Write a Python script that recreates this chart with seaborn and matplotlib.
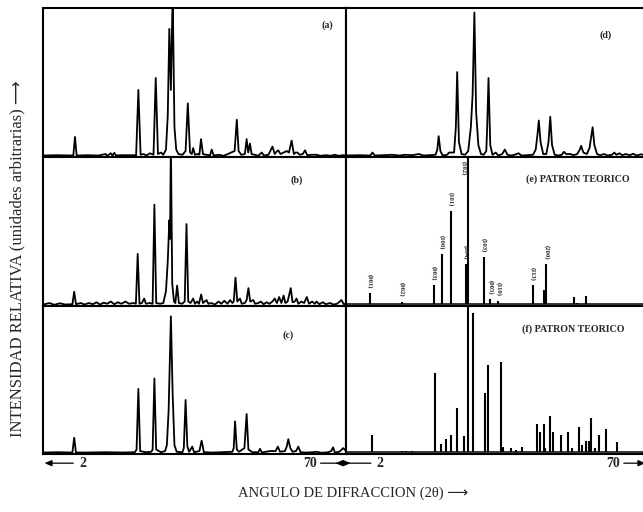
import matplotlib
matplotlib.use("Agg")
import matplotlib.pyplot as plt
import numpy as np
import pandas as pd
import seaborn as sns

# --- measured diffraction traces (2theta in degrees, relative intensity) ---
trace_a = [(2.0, 0.01), (5.0, 0.012), (8.8, 0.01), (9.18, 0.135), (9.55, 0.01), (12.0, 0.012),
           (14.5, 0.01), (16.0, 0.02), (16.4, 0.008), (17.2, 0.025), (17.6, 0.01), (18.0, 0.028),
           (18.4, 0.01), (19.5, 0.012), (22.9, 0.012), (23.4, 0.45), (23.9, 0.015), (24.6, 0.02),
           (25.2, 0.01), (26.0, 0.025), (26.8, 0.015), (27.3, 0.53), (27.8, 0.02), (28.5, 0.03),
           (29.0, 0.015), (29.6, 0.05), (30.0, 0.28), (30.35, 0.86), (30.7, 0.45), (31.1, 1.1),
           (31.5, 0.2), (31.9, 0.05), (32.4, 0.02), (33.3, 0.015), (34.0, 0.04), (34.5, 0.36),
           (35.0, 0.03), (35.4, 0.02), (35.7, 0.06), (36.1, 0.015), (36.8, 0.02), (37.1, 0.015),
           (37.46, 0.12), (37.9, 0.02), (38.6, 0.015), (39.5, 0.012), (39.86, 0.05), (40.3, 0.01),
           (41.5, 0.015), (42.5, 0.008), (43.5, 0.02), (44.2, 0.03), (45.0, 0.04), (45.5, 0.25),
           (45.9, 0.04), (46.5, 0.015), (47.3, 0.02), (47.7, 0.12), (48.05, 0.03), (48.45, 0.09),
           (48.8, 0.02), (49.5, 0.015), (50.3, 0.008), (51.1, 0.03), (51.6, 0.01), (52.6, 0.015),
           (53.5, 0.07), (54.0, 0.02), (54.4, 0.035), (54.8, 0.045), (55.3, 0.02), (56.0, 0.03),
           (56.7, 0.04), (57.2, 0.03), (57.8, 0.11), (58.3, 0.02), (58.7, 0.03), (59.1, 0.03),
           (59.6, 0.015), (60.3, 0.02), (60.8, 0.045), (61.3, 0.012), (62.3, 0.015), (63.4, 0.015),
           (64.2, 0.008), (65.5, 0.012), (66.6, 0.008), (67.5, 0.015), (68.3, 0.008), (69.3, 0.012),
           (70.0, 0.01)]

trace_b = [(2.0, 0.01), (3.5, 0.02), (4.5, 0.008), (5.8, 0.018), (7.0, 0.01), (8.6, 0.012),
           (9.0, 0.096), (9.4, 0.012), (10.5, 0.02), (11.3, 0.01), (12.3, 0.02), (13.2, 0.012),
           (14.0, 0.025), (14.8, 0.01), (15.6, 0.022), (16.4, 0.015), (17.2, 0.03), (18.0, 0.012),
           (18.8, 0.025), (19.6, 0.015), (20.5, 0.03), (21.3, 0.015), (22.3, 0.02), (22.85, 0.015),
           (23.25, 0.35), (23.65, 0.015), (24.2, 0.02), (24.7, 0.05), (25.1, 0.015), (25.9, 0.02),
           (26.6, 0.015), (27.0, 0.68), (27.4, 0.02), (28.3, 0.015), (29.0, 0.02), (29.6, 0.1),
           (30.0, 0.3), (30.35, 0.575), (30.5, 0.45), (30.7, 1.1), (31.0, 0.15), (31.4, 0.03),
           (31.7, 0.02), (32.1, 0.137), (32.5, 0.02), (33.2, 0.015), (33.8, 0.03), (34.2, 0.55),
           (34.6, 0.03), (35.1, 0.02), (35.7, 0.05), (36.1, 0.015), (36.6, 0.03), (37.0, 0.015),
           (37.5, 0.077), (37.9, 0.02), (38.3, 0.03), (38.7, 0.04), (39.1, 0.015), (39.8, 0.02),
           (40.6, 0.01), (41.4, 0.03), (42.0, 0.015), (42.7, 0.035), (43.4, 0.015), (44.0, 0.04),
           (44.5, 0.02), (44.8, 0.03), (45.2, 0.19), (45.6, 0.03), (46.2, 0.05), (46.6, 0.015),
           (47.3, 0.02), (47.7, 0.04), (48.1, 0.12), (48.5, 0.03), (49.2, 0.04), (49.6, 0.015),
           (50.3, 0.02), (50.9, 0.03), (51.5, 0.012), (52.2, 0.025), (52.8, 0.015), (53.5, 0.03),
           (54.0, 0.05), (54.5, 0.02), (55.0, 0.06), (55.5, 0.02), (56.0, 0.07), (56.4, 0.02),
           (56.9, 0.03), (57.6, 0.12), (58.0, 0.025), (58.5, 0.03), (58.9, 0.05), (59.3, 0.015),
           (60.0, 0.03), (60.6, 0.02), (61.2, 0.06), (61.7, 0.015), (62.4, 0.03), (63.0, 0.015),
           (63.4, 0.03), (64.0, 0.012), (64.8, 0.025), (65.5, 0.012), (66.4, 0.02), (67.2, 0.01),
           (68.0, 0.015), (69.0, 0.04), (69.5, 0.012), (70.0, 0.015)]

trace_c = [(2.0, 0.01), (5.0, 0.012), (8.6, 0.01), (9.0, 0.11), (9.4, 0.01), (12.0, 0.01),
           (16.0, 0.012), (20.0, 0.01), (22.6, 0.012), (23.0, 0.03), (23.4, 0.44), (23.8, 0.02),
           (25.0, 0.012), (26.3, 0.015), (26.6, 0.03), (27.0, 0.51), (27.4, 0.03), (28.5, 0.012),
           (29.4, 0.02), (29.8, 0.06), (30.2, 0.3), (30.7, 0.93), (31.1, 0.4), (31.5, 0.06),
           (32.0, 0.015), (33.3, 0.012), (33.6, 0.04), (34.0, 0.365), (34.4, 0.05), (34.8, 0.015),
           (35.5, 0.05), (35.9, 0.012), (37.1, 0.02), (37.6, 0.09), (38.1, 0.012), (40.0, 0.01),
           (42.0, 0.012), (44.5, 0.015), (44.8, 0.04), (45.1, 0.22), (45.5, 0.03), (46.0, 0.015),
           (47.2, 0.04), (47.7, 0.27), (48.1, 0.03), (49.0, 0.012), (50.3, 0.012), (50.7, 0.035),
           (51.1, 0.01), (52.0, 0.015), (53.0, 0.02), (54.2, 0.02), (54.7, 0.05), (55.2, 0.015),
           (56.3, 0.02), (56.7, 0.05), (57.05, 0.1), (57.5, 0.04), (58.0, 0.015), (58.8, 0.02),
           (59.3, 0.05), (59.8, 0.012), (61.0, 0.01), (62.5, 0.012), (63.4, 0.015), (64.5, 0.008),
           (66.0, 0.012), (66.7, 0.02), (67.1, 0.045), (67.5, 0.01), (68.5, 0.015), (69.4, 0.04),
           (70.0, 0.02)]

trace_d = [(2.0, 0.01), (5.0, 0.012), (7.5, 0.01), (8.0, 0.03), (8.5, 0.01), (10.5, 0.012),
           (12.5, 0.015), (14.0, 0.01), (15.5, 0.015), (17.0, 0.012), (18.5, 0.02), (19.6, 0.01),
           (20.8, 0.012), (22.3, 0.015), (22.7, 0.05), (23.0, 0.14), (23.4, 0.04), (23.9, 0.01),
           (24.9, 0.015), (25.4, 0.03), (26.5, 0.03), (26.9, 0.2), (27.2, 0.57), (27.6, 0.1),
           (28.2, 0.02), (29.0, 0.015), (29.7, 0.04), (30.3, 0.2), (30.7, 0.42), (31.1, 0.97),
           (31.5, 0.3), (32.0, 0.08), (32.6, 0.02), (33.2, 0.015), (33.8, 0.04), (34.0, 0.2),
           (34.3, 0.53), (34.7, 0.08), (35.2, 0.015), (35.95, 0.03), (36.5, 0.01), (37.4, 0.02),
           (38.0, 0.05), (38.6, 0.015), (39.5, 0.01), (40.2, 0.015), (41.1, 0.025), (41.8, 0.01),
           (43.0, 0.012), (44.4, 0.015), (45.0, 0.05), (45.4, 0.15), (45.7, 0.245), (46.1, 0.1),
           (46.7, 0.02), (47.4, 0.02), (47.9, 0.1), (48.3, 0.27), (48.7, 0.08), (49.3, 0.015),
           (50.2, 0.01), (50.9, 0.015), (51.4, 0.035), (51.9, 0.02), (52.9, 0.02), (53.5, 0.012),
           (54.4, 0.02), (55.0, 0.05), (55.3, 0.075), (55.8, 0.03), (56.6, 0.02), (57.2, 0.06),
           (57.6, 0.14), (57.9, 0.2), (58.3, 0.08), (58.9, 0.02), (59.6, 0.012), (60.5, 0.02),
           (61.3, 0.01), (62.3, 0.015), (62.8, 0.03), (63.3, 0.015), (64.0, 0.025), (64.6, 0.012),
           (65.4, 0.02), (66.3, 0.012), (67.1, 0.022), (67.9, 0.01), (68.8, 0.018), (70.0, 0.012)]

# --- theoretical stick patterns ---
e_theta = [7.34, 14.6, 21.85, 23.7, 25.8, 29.2, 29.6, 33.2, 34.7, 36.5, 44.3, 46.9, 47.4, 53.7, 54.4, 56.5]
e_int = [0.09, 0.03, 0.14, 0.35, 0.64, 0.28, 1.05, 0.33, 0.045, 0.035, 0.14, 0.11, 0.28, 0.063, 0.02, 0.07]
e_hkl_theta = [7.34, 14.6, 21.85, 23.7, 25.8, 29.2, 29.6, 33.2, 34.7, 36.5, 44.3, 47.4]
e_hkl_int = [0.09, 0.03, 0.14, 0.35, 0.64, 0.28, 1.05, 0.33, 0.045, 0.035, 0.14, 0.28]
e_hkl = ["(001)", "(002)", "(003)", "(100)", "(101)", "(004)", "(102)", "(103)",
         "(005)", "(110)", "(113)", "(200)"]

f_theta = [7.9, 14.75, 15.5, 17.0, 22.15, 23.5, 24.7, 25.8, 27.25, 28.7, 29.6, 30.85, 33.4, 34.2,
           37.1, 37.6, 39.5, 40.5, 41.8, 45.3, 46.0, 46.8, 47.2, 48.3, 48.9, 50.8, 52.4, 53.3,
           54.8, 55.6, 56.5, 57.1, 57.6, 58.4, 59.4, 60.9, 63.35]
f_int = [0.127, 0.02, 0.02, 0.02, 0.55, 0.07, 0.10, 0.13, 0.31, 0.12, 1.05, 0.95, 0.41, 0.6,
         0.62, 0.05, 0.04, 0.03, 0.045, 0.2, 0.15, 0.2, 0.04, 0.26, 0.15, 0.13, 0.15, 0.04,
         0.18, 0.06, 0.09, 0.09, 0.24, 0.04, 0.13, 0.17, 0.08]

panel_tags = ["(a)", "(b)", "(c)", "(d)", "(e) PATRON TEORICO", "(f) PATRON TEORICO"]
x_range = (2, 70)

sns.set_theme(style="white")
plt.rcParams["font.family"] = ["Liberation Serif", "DejaVu Sans"]

W, H = 643, 512
fig = plt.figure(figsize=(W / 100, H / 100), dpi=100)

col_left = [(43, 303), (346, 300)]
row_top = [(8, 157), (157, 306), (306, 454)]


def make_ax(col, row):
    x0, w = col_left[col]
    t, b = row_top[row]
    ax = fig.add_axes([x0 / W, 1 - b / H, w / W, (b - t) / H])
    ax.set_xlim(*x_range)
    ax.set_ylim(0, 1)
    ax.set_xticks([])
    ax.set_yticks([])
    for s in ax.spines.values():
        s.set_color("black")
        s.set_linewidth(1.5)
    ax.set_facecolor("white")
    return ax


def draw_trace(ax, trace):
    df = pd.DataFrame(trace, columns=["theta", "intensity"])
    sns.lineplot(data=df, x="theta", y="intensity", ax=ax, color="black",
                 linewidth=1.3, sort=False, estimator=None)
    ax.set_xlabel("")
    ax.set_ylabel("")


def draw_sticks(ax, theta, inten):
    ax.axhline(0.012, color="black", linewidth=1.1)
    ax.vlines(theta, 0.012, inten, color="black", linewidth=1.5)


axes = {}
for i, tr in enumerate([trace_a, trace_b, trace_c]):
    ax = make_ax(0, i)
    draw_trace(ax, tr)
    axes[(0, i)] = ax
ax = make_ax(1, 0)
draw_trace(ax, trace_d)
axes[(1, 0)] = ax
ax = make_ax(1, 1)
draw_sticks(ax, e_theta, e_int)
for th, h, lab in zip(e_hkl_theta, e_hkl_int, e_hkl):
    if h >= 1.0:
        ax.text(th - 0.9, 0.97, lab, rotation=270, ha="center", va="top",
                fontsize=4.8, fontweight="bold")
    else:
        ax.text(th, h + 0.03, lab, rotation=270, ha="center", va="bottom",
                fontsize=4.8, fontweight="bold")
axes[(1, 1)] = ax
ax = make_ax(1, 2)
draw_sticks(ax, f_theta, f_int)
axes[(1, 2)] = ax

tag_pos = {(0, 0): (0.937, 0.885), (0, 1): (0.838, 0.845), (0, 2): (0.808, 0.80),
           (1, 0): (0.865, 0.82), (1, 1): (0.774, 0.85), (1, 2): (0.758, 0.84)}
order = [(0, 0), (0, 1), (0, 2), (1, 0), (1, 1), (1, 2)]
for key, tag in zip(order, panel_tags):
    x, y = tag_pos[key]
    axes[key].text(x, y, tag, transform=axes[key].transAxes, ha="center", va="center",
                   fontsize=7.2, fontweight="bold")

# axis end markers with arrows
ys = -0.062
arrow_kw = dict(arrowstyle="-|>,head_length=0.35,head_width=0.15", color="black", lw=0.9,
                shrinkA=0, shrinkB=0)
for col, (p2, a2, p70, a70) in {0: (0.132, (0.100, 0.005), 0.881, (0.916, 1.015)),
                                1: (0.114, (0.083, -0.035), 0.889, (0.926, 0.998))}.items():
    ax = axes[(col, 2)]
    ax.text(p2, ys, "2", transform=ax.transAxes, ha="center", va="center",
            fontsize=10, fontweight="bold", clip_on=False)
    ax.text(p70, ys, "70", transform=ax.transAxes, ha="center", va="center",
            fontsize=10, fontweight="bold", clip_on=False)
    ax.annotate("", xy=(a2[1], ys), xytext=(a2[0], ys), xycoords="axes fraction",
                textcoords="axes fraction", arrowprops=arrow_kw, annotation_clip=False)
    ax.annotate("", xy=(a70[1], ys), xytext=(a70[0], ys), xycoords="axes fraction",
                textcoords="axes fraction", arrowprops=arrow_kw, annotation_clip=False)

fig.text(353 / W, 1 - 493 / H, "ANGULO DE DIFRACCION (2\u03b8) \u27f6", ha="center",
         va="center", fontsize=10.5)
fig.text(17 / W, 1 - 259 / H, "INTENSIDAD RELATIVA (unidades arbitrarias) \u27f6",
         rotation=90, ha="center", va="center", fontsize=12)

fig.savefig("out.png", dpi=100, facecolor="white")
